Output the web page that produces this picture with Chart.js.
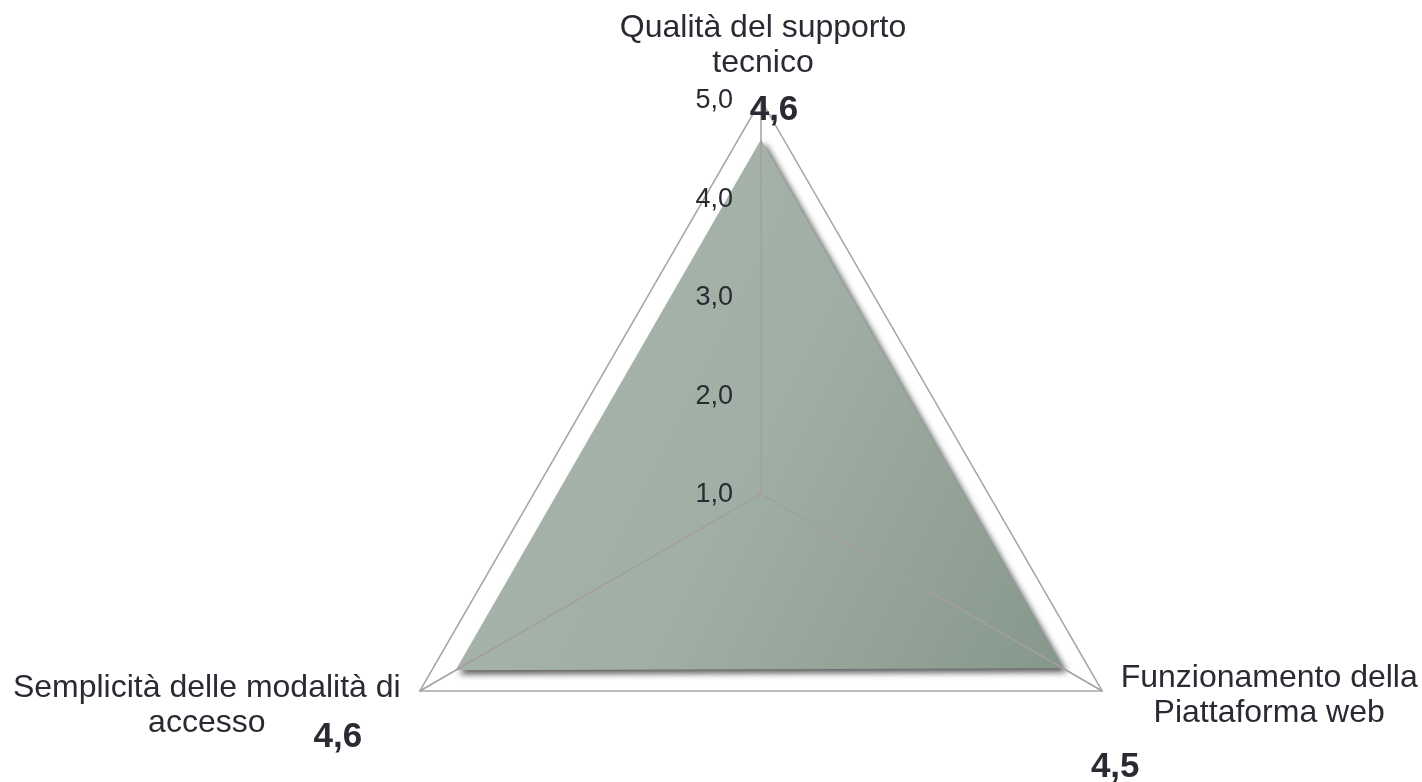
<!DOCTYPE html>
<html lang="it">
<head>
<meta charset="utf-8">
<title>Valutazione servizio</title>
<script src="https://cdn.jsdelivr.net/npm/chart.js@4.4.1/dist/chart.umd.min.js"></script>
<style>
    html, body { margin: 0; padding: 0; background: #ffffff; overflow: hidden; }
    #wrap { position: relative; width: 1422px; height: 890px; }
</style>
</head>
<body>
<div id="wrap"><canvas id="radar"></canvas></div>
<script>
// ------------------------------------------------------------
// Dati del grafico
// ------------------------------------------------------------
const categorie = [
    ['Qualità del supporto', 'tecnico'],
    ['Funzionamento della', 'Piattaforma web'],
    ['Semplicità delle modalità di', 'accesso']
];
const valori = [4.6, 4.54, 4.58];
const tickValori = [1, 2, 3, 4, 5];
const tickEtichette = ['1,0', '2,0', '3,0', '4,0', '5,0'];

// ------------------------------------------------------------
// Stile
// ------------------------------------------------------------
const C = {
    text: '#2a2a33',
    grid: '#a6a6a6',
    fillA: '#a7b4ab',
    fillB: '#86978b',
};
const FONT = '"Liberation Sans", Arial, sans-serif';

// scostamenti delle etichette dal vertice esterno (valore 5)
const POS_CATEGORIE = [
    { dx: 2, dy: [-63, -28] },
    { dx: 167, dy: [-4, 31] },
    { dx: -213, dy: [6, 41] }
];
const POS_VALORI = [
    { dx: 13, dy: 10 },
    { dx: 13, dy: 76 },
    { dx: -82, dy: 46 }
];

// ombra sotto l'area
const ombraPlugin = {
    id: 'ombra',
    beforeDatasetsDraw(chart) {
        const ctx = chart.ctx;
        ctx.save();
        ctx.shadowColor = 'rgba(0, 0, 0, 0.65)';
        ctx.shadowBlur = 6;
        ctx.shadowOffsetX = 4;
        ctx.shadowOffsetY = 4;
    },
    afterDatasetsDraw(chart) {
        chart.ctx.restore();
    }
};

// etichette: tick, categorie, valori
const etichettePlugin = {
    id: 'etichette',
    afterDraw(chart) {
        const r = chart.scales.r;
        const ctx = chart.ctx;
        ctx.save();
        ctx.fillStyle = C.text;

        ctx.font = '27px ' + FONT;
        ctx.textAlign = 'right';
        ctx.textBaseline = 'middle';
        tickValori.forEach((v, i) => {
            const p = r.getPointPositionForValue(0, v);
            ctx.fillText(tickEtichette[i], p.x - 28, p.y + 1);
        });

        ctx.font = '32px ' + FONT;
        ctx.textAlign = 'center';
        ctx.textBaseline = 'alphabetic';
        categorie.forEach((righe, i) => {
            const p = r.getPointPositionForValue(i, r.max);
            righe.forEach((t, k) => {
                ctx.fillText(t, p.x + POS_CATEGORIE[i].dx, p.y + POS_CATEGORIE[i].dy[k]);
            });
        });

        ctx.font = 'bold 35px ' + FONT;
        ctx.textBaseline = 'middle';
        valori.forEach((v, i) => {
            const p = r.getPointPositionForValue(i, r.max);
            const txt = v.toFixed(1).replace('.', ',');
            ctx.fillText(txt, p.x + POS_VALORI[i].dx, p.y + POS_VALORI[i].dy);
        });
        ctx.restore();
    }
};

function sfumatura(context) {
    const chart = context.chart;
    const r = chart.scales.r;
    if (!r || !chart.chartArea) return C.fillA;
    const g = chart.ctx.createLinearGradient(
        r.xCenter - 300, r.yCenter - 120,
        r.xCenter + 300, r.yCenter + 180
    );
    g.addColorStop(0, C.fillA);
    g.addColorStop(0.45, '#a0afa5');
    g.addColorStop(1, C.fillB);
    return g;
}

new Chart(document.getElementById('radar'), {
    type: 'radar',
    data: {
        labels: categorie,
        datasets: [{
            data: valori,
            backgroundColor: sfumatura,
            borderWidth: 0,
            pointRadius: 0,
            pointHoverRadius: 0,
            fill: true,
        }]
    },
    options: {
        responsive: true,
        maintainAspectRatio: false,
        animation: false,
        layout: { padding: { top: 100, left: 100, right: 0, bottom: 2 } },
        plugins: {
            legend: { display: false },
            tooltip: { enabled: false }
        },
        scales: {
            r: {
                min: 1,
                max: 5,
                ticks: { display: false, stepSize: 1 },
                pointLabels: { display: false },
                grid: {
                    z: 1,   // griglia e assi sopra l'area
                    color: c => c.tick && c.tick.value === 5 ? C.grid : 'rgba(0,0,0,0)',
                    lineWidth: 1.5
                },
                angleLines: { color: '#a49ea0', lineWidth: 1.5 }
            }
        }
    },
    plugins: [ombraPlugin, etichettePlugin]
});
</script>
</body>
</html>
